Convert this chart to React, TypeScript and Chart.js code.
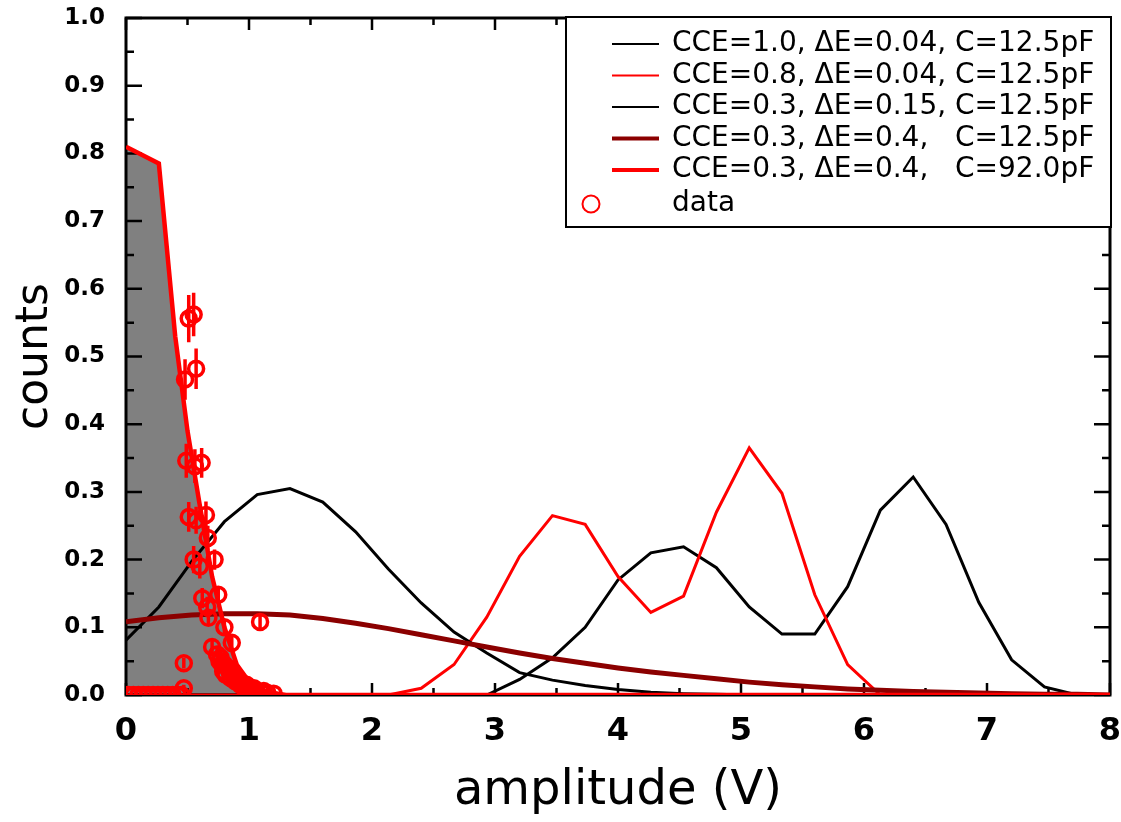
import React, { useEffect, useRef } from "react";
import { Chart, registerables } from "chart.js";

Chart.register(...registerables);

// ---------- data ----------
const gridX = [0, 0.267, 0.533, 0.8, 1.067, 1.333, 1.6, 1.867, 2.133, 2.4, 2.667, 2.933, 3.2, 3.467, 3.733, 4.0, 4.267, 4.533, 4.8, 5.067, 5.333, 5.6, 5.867, 6.133, 6.4, 6.667, 6.933, 7.2, 7.467, 7.733, 8.0];

const cce10 = [0, 0, 0, 0, 0, 0, 0, 0, 0, 0, 0, 0, 0.023, 0.055, 0.1, 0.17, 0.21, 0.219, 0.188, 0.13, 0.09, 0.09, 0.16, 0.273, 0.322, 0.252, 0.137, 0.052, 0.012, 0, 0];
const cce08 = [0, 0, 0, 0, 0, 0, 0, 0, 0, 0.01, 0.045, 0.115, 0.205, 0.265, 0.252, 0.175, 0.122, 0.146, 0.27, 0.365, 0.298, 0.148, 0.045, 0, 0, 0, 0, 0, 0, 0, 0];
const cce03 = [0.081, 0.13, 0.197, 0.256, 0.296, 0.305, 0.285, 0.241, 0.186, 0.136, 0.093, 0.062, 0.033, 0.022, 0.014, 0.008, 0.004, 0.002, 0.001, 0, 0, 0, 0, 0, 0, 0, 0, 0, 0, 0, 0];
const cce03wide = [0.108, 0.114, 0.118, 0.12, 0.12, 0.118, 0.113, 0.106, 0.098, 0.089, 0.08, 0.071, 0.062, 0.054, 0.047, 0.04, 0.034, 0.029, 0.024, 0.019, 0.015, 0.012, 0.009, 0.007, 0.005, 0.004, 0.003, 0.002, 0.001, 0.001, 0];

const bigCX = [0, 0.267, 0.4, 0.5, 0.6, 0.7, 0.8, 0.9, 1.0, 1.1, 1.2, 1.3, 8.0];
const bigCY = [0.81, 0.785, 0.53, 0.39, 0.28, 0.175, 0.1, 0.045, 0.02, 0.008, 0.003, 0, 0];

const dataX = [0.51, 0.55, 0.48, 0.57, 0.49, 0.56, 0.615, 0.51, 0.57, 0.65, 0.665, 0.55, 0.60, 0.72, 0.62, 0.66, 0.75, 0.67, 0.80, 0.70, 0.86, 0.47, 1.09, 0.47,
  0.74, 0.76, 0.77, 0.78, 0.79, 0.80, 0.81, 0.83, 0.84, 0.85, 0.87, 0.88, 0.89, 0.91, 0.92, 0.93, 0.95, 0.97, 0.98, 1.00, 1.03, 1.04, 1.06, 1.10, 1.12, 1.15, 1.20,
  0.02, 0.06, 0.10, 0.14, 0.18, 0.22, 0.26, 0.30, 0.34, 0.38, 0.42, 0.45];
const dataY = [0.556, 0.562, 0.466, 0.482, 0.346, 0.338, 0.343, 0.263, 0.258, 0.266, 0.232, 0.200, 0.190, 0.200, 0.143, 0.130, 0.148, 0.114, 0.100, 0.071, 0.077, 0.047, 0.108, 0.010,
  0.060, 0.050, 0.055, 0.045, 0.035, 0.045, 0.030, 0.040, 0.035, 0.025, 0.030, 0.025, 0.020, 0.022, 0.020, 0.015, 0.017, 0.012, 0.015, 0.010, 0.008, 0.010, 0.006, 0.004, 0.006, 0.003, 0.002,
  0, 0, 0, 0, 0, 0, 0, 0, 0, 0, 0, 0];
const dataErr = [0.035, 0.032, 0.03, 0.03, 0.025, 0.025, 0.022, 0.022, 0.02, 0.02, 0.018, 0.02, 0.018, 0.015, 0.015, 0.015, 0.012, 0.012, 0.012, 0.01, 0.01, 0.008, 0.01, 0.005,
  0.01, 0.01, 0.01, 0.008, 0.008, 0.008, 0.008, 0.008, 0.008, 0.006, 0.006, 0.006, 0.006, 0.006, 0.006, 0.005, 0.005, 0.004, 0.004, 0.004, 0.003, 0.003, 0.003, 0.002, 0.002, 0.002, 0.002,
  0, 0, 0, 0, 0, 0, 0, 0, 0, 0, 0, 0];

const xTickLabels = ["0", "1", "2", "3", "4", "5", "6", "7", "8"];
const yTickLabels = ["0.0", "0.1", "0.2", "0.3", "0.4", "0.5", "0.6", "0.7", "0.8", "0.9", "1.0"];

const legendLabels = [
  "CCE=1.0, \u0394E=0.04, C=12.5pF",
  "CCE=0.8, \u0394E=0.04, C=12.5pF",
  "CCE=0.3, \u0394E=0.15, C=12.5pF",
  "CCE=0.3, \u0394E=0.4,   C=12.5pF",
  "CCE=0.3, \u0394E=0.4,   C=92.0pF",
  "data",
];

const RED = "#ff0000";
const DARKRED = "#8b0000";
const BLACK = "#000000";
const GRAY = "#808080";

const pairs = (xs: number[], ys: number[]) => xs.map((x, i) => ({ x, y: ys[i] }));

// ---------- plugins ----------
const framePlugin = {
  id: "frameTicks",
  beforeDatasetsDraw(chart: any) {
    const { ctx, chartArea: a, scales } = chart;
    const xs = scales.x, ys = scales.y;
    ctx.save();
    ctx.strokeStyle = BLACK;
    ctx.lineWidth = 3;
    ctx.strokeRect(a.left, a.top, a.right - a.left, a.bottom - a.top);
    ctx.lineWidth = 2.5;
    ctx.beginPath();
    for (let k = 0; k <= 16; k++) {
      const px = xs.getPixelForValue(k * 0.5);
      const len = k % 2 === 0 ? 12 : 7;
      ctx.moveTo(px, a.bottom); ctx.lineTo(px, a.bottom - len);
      ctx.moveTo(px, a.top); ctx.lineTo(px, a.top + len);
    }
    for (let k = 0; k <= 20; k++) {
      const py = ys.getPixelForValue(k * 0.05);
      const len = k % 2 === 0 ? 16 : 8;
      ctx.moveTo(a.left, py); ctx.lineTo(a.left + len, py);
      ctx.moveTo(a.right, py); ctx.lineTo(a.right - len, py);
    }
    ctx.stroke();
    ctx.restore();
  },
};

const errorBarPlugin = {
  id: "errorBars",
  afterDatasetsDraw(chart: any) {
    const { ctx, chartArea: a, scales } = chart;
    ctx.save();
    ctx.beginPath();
    ctx.rect(a.left, a.top, a.right - a.left, a.bottom - a.top);
    ctx.clip();
    ctx.strokeStyle = RED;
    ctx.lineWidth = 3.5;
    ctx.beginPath();
    for (let i = 0; i < dataX.length; i++) {
      if (!dataErr[i]) continue;
      const px = scales.x.getPixelForValue(dataX[i]);
      const y1 = scales.y.getPixelForValue(dataY[i] - dataErr[i]);
      const y2 = scales.y.getPixelForValue(dataY[i] + dataErr[i]);
      ctx.moveTo(px, y1); ctx.lineTo(px, y2);
    }
    ctx.stroke();
    ctx.restore();
  },
};

const legendPlugin = {
  id: "boxLegend",
  afterDraw(chart: any) {
    const { ctx, chartArea: a } = chart;
    const ds = chart.data.datasets;
    const left = a.left + 440;
    const top = a.top - 1;
    const right = a.right + 1;
    const bottom = top + 210;
    ctx.save();
    ctx.fillStyle = "#ffffff";
    ctx.fillRect(left, top, right - left, bottom - top);
    ctx.strokeStyle = BLACK;
    ctx.lineWidth = 2;
    ctx.strokeRect(left, top, right - left, bottom - top);
    ctx.font = "28px 'DejaVu Sans'";
    ctx.textBaseline = "middle";
    ctx.textAlign = "left";
    const textX = left + 106;
    const first = ds[0].label as string;
    const colX = textX + ctx.measureText(first.slice(0, first.lastIndexOf("C="))).width;
    const rowsY = [27, 58.5, 90, 121.5, 153, 187];
    ds.forEach((d: any, r: number) => {
      const y = top + rowsY[r];
      if (d.showLine === false) {
        ctx.strokeStyle = RED;
        ctx.lineWidth = 2;
        ctx.beginPath();
        ctx.arc(left + 25, y, 8.5, 0, Math.PI * 2);
        ctx.stroke();
      } else {
        ctx.strokeStyle = d.borderColor;
        ctx.lineWidth = d.borderWidth >= 4 ? 4 : 2;
        ctx.beginPath();
        ctx.moveTo(left + 46, y);
        ctx.lineTo(left + 93, y);
        ctx.stroke();
      }
      ctx.fillStyle = BLACK;
      const label = d.label as string;
      const idx = label.lastIndexOf("C=");
      if (idx > 0) {
        ctx.fillText(label.slice(0, idx).trimEnd(), textX, y);
        ctx.fillText(label.slice(idx), colX, y);
      } else {
        ctx.fillText(label, textX, y);
      }
    });
    ctx.restore();
  },
};

export default function App() {
  const ref = useRef<HTMLCanvasElement | null>(null);

  useEffect(() => {
    if (!ref.current) return;
    const chart = new Chart(ref.current, {
      type: "line",
      data: {
        datasets: [
          {
            label: legendLabels[0],
            data: pairs(gridX, cce10),
            borderColor: BLACK, borderWidth: 3, pointRadius: 0, fill: false, order: 5,
          },
          {
            label: legendLabels[1],
            data: pairs(gridX, cce08),
            borderColor: RED, borderWidth: 3, pointRadius: 0, fill: false, order: 4,
          },
          {
            label: legendLabels[2],
            data: pairs(gridX, cce03),
            borderColor: BLACK, borderWidth: 3, pointRadius: 0, fill: false, order: 3,
          },
          {
            label: legendLabels[3],
            data: pairs(gridX, cce03wide),
            borderColor: DARKRED, borderWidth: 5, pointRadius: 0, fill: false, order: 2,
          },
          {
            label: legendLabels[4],
            data: pairs(bigCX, bigCY),
            borderColor: RED, borderWidth: 4.5, pointRadius: 0,
            fill: "origin", backgroundColor: GRAY, order: 1,
          },
          {
            label: legendLabels[5],
            data: pairs(dataX, dataY),
            showLine: false,
            borderColor: RED,
            pointRadius: 7.5,
            pointBorderWidth: 3.5,
            pointBorderColor: RED,
            pointBackgroundColor: "rgba(0,0,0,0)",
            clip: 0,
            order: 0,
          } as any,
        ],
      },
      options: {
        responsive: false,
        animation: false,
        events: [],
        layout: { padding: { left: 0, right: 11, top: 18, bottom: 0 } },
        elements: { line: { tension: 0 } },
        plugins: {
          legend: { display: false },
          tooltip: { enabled: false },
          filler: { drawTime: "beforeDatasetsDraw" },
        } as any,
        scales: {
          x: {
            type: "linear",
            min: 0,
            max: 8,
            grid: { display: false, drawTicks: false },
            border: { display: false },
            ticks: {
              stepSize: 1,
              autoSkip: false,
              maxRotation: 0,
              padding: 17,
              color: BLACK,
              font: { family: "'DejaVu Sans'", weight: "bold", size: 32 },
              callback: (_v: any, i: number) => xTickLabels[i],
            },
            title: {
              display: true,
              text: "amplitude (V)",
              color: BLACK,
              font: { family: "'DejaVu Sans'", size: 48 },
              padding: { top: 0, bottom: 2 },
            },
            afterFit: (s: any) => { s.height = 127; s.paddingLeft = 0; s.paddingRight = 0; },
          },
          y: {
            type: "linear",
            min: 0,
            max: 1,
            grid: { display: false, drawTicks: false },
            border: { display: false },
            ticks: {
              stepSize: 0.1,
              autoSkip: false,
              padding: 21,
              color: BLACK,
              font: { family: "'DejaVu Sans'", weight: "bold", size: 23 },
              callback: (_v: any, i: number) => yTickLabels[i],
            },
            title: {
              display: true,
              text: "counts",
              color: BLACK,
              font: { family: "'DejaVu Sans'", size: 44 },
              padding: { top: 9, bottom: 0 },
            },
            afterFit: (s: any) => { s.width = 126; s.paddingTop = 0; s.paddingBottom = 0; },
          },
        } as any,
      },
      plugins: [framePlugin, errorBarPlugin, legendPlugin],
    });
    return () => chart.destroy();
  }, []);

  return (
    <div style={{ position: "absolute", left: 0, top: 0, width: 1121, height: 822, background: "#fff" }}>
      <canvas ref={ref} width={1121} height={822} style={{ display: "block" }} />
    </div>
  );
}
